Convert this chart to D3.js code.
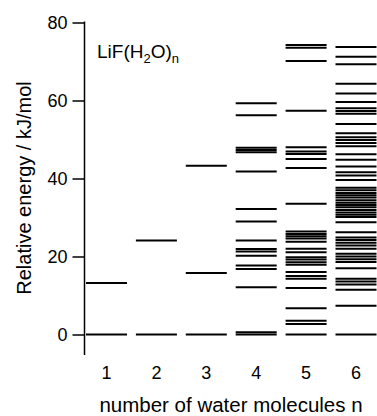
<!DOCTYPE html>
<html>
<head>
<meta charset="utf-8">
<script src="https://cdn.jsdelivr.net/npm/d3@7"></script>
<style>
  body { margin: 0; background: #fff; }
  svg { display: block; font-family: "Liberation Sans", Arial, sans-serif; }
</style>
</head>
<body>
<svg id="chart" width="377" height="416"></svg>
<script>
// cluster sizes n and relative energies (kJ/mol) of each isomer
const clusterSizes = [1, 2, 3, 4, 5, 6];
const energies1 = [0, 13.2];
const energies2 = [0, 24.1];
const energies3 = [0, 15.8, 43.3];
const energies4 = [0, 0.6, 12.1, 16.8, 17.7, 20.2, 21.3, 21.9, 24.1, 29.0, 32.2, 41.8,
  46.7, 47.3, 47.9, 56.2, 59.3];
const energies5 = [0, 2.7, 3.5, 6.7, 11.9, 14.3, 15.0, 16.0, 17.9, 18.5, 19.2, 19.8, 21.1,
  22.0, 23.8, 24.6, 25.2, 25.8, 26.4, 33.5, 42.7, 45.0, 46.3, 46.9, 48.0, 57.4, 70.1, 73.5, 74.2];
const energies6 = [0, 7.4, 11.5, 12.8, 13.6, 14.3, 17.0, 18.6, 19.3, 20.0, 20.7, 22.0, 22.8,
  23.5, 24.2, 24.9, 26.2, 28.8, 30.1, 30.7, 31.3, 31.9, 32.6, 33.2, 33.8, 34.4, 35.1, 35.7,
  36.3, 37.0, 37.6, 39.6, 40.8, 41.6, 43.1, 44.8, 46.2, 48.3, 49.1, 49.9, 50.6, 51.6, 54.0,
  56.6, 57.3, 58.0, 59.6, 61.8, 64.3, 69.3, 71.2, 73.7];
const yTicks = [0, 20, 40, 60, 80];

const allEnergies = [energies1, energies2, energies3, energies4, energies5, energies6];

const svg = d3.select("#chart");

let x = d3.scaleLinear().domain([1, 6]).range([106.5, 356]);
let y = d3.scaleLinear().domain([0, 80]).range([334.5, 22.5]);
let halfWidth = 20.5;

// y axis
let yAxis = d3.axisLeft(y)
  .tickValues(yTicks)
  .tickSize(12)
  .tickPadding(5)
  .tickFormat(d3.format("d"));

let gy = svg.append("g")
  .attr("transform", "translate(84.5,0)")
  .call(yAxis);
gy.select(".domain").remove();
gy.selectAll(".tick line").attr("stroke", "#000").attr("stroke-width", 1.5);
gy.selectAll(".tick text")
  .attr("fill", "#000")
  .style("font-size", "18px")
  .style("font-family", "Liberation Sans, Arial, sans-serif");

gy.append("line")
  .attr("x1", 0).attr("x2", 0)
  .attr("y1", y(80) - 1).attr("y2", 355)
  .attr("stroke", "#000")
  .attr("stroke-width", 1.5);

// category labels (no axis line)
svg.append("g").selectAll("text")
  .data(clusterSizes)
  .enter()
  .append("text")
  .attr("x", d => x(d))
  .attr("y", 379)
  .attr("text-anchor", "middle")
  .style("font-size", "18px")
  .text(d => d);

// energy levels
let levels = [];
allEnergies.forEach(function (arr, i) {
  arr.forEach(function (e) { levels.push({ n: clusterSizes[i], e: e }); });
});

svg.append("g").selectAll("line")
  .data(levels)
  .enter()
  .append("line")
  .attr("x1", d => x(d.n) - halfWidth)
  .attr("x2", d => x(d.n) + halfWidth)
  .attr("y1", d => y(d.e))
  .attr("y2", d => y(d.e))
  .attr("stroke", "#000")
  .attr("stroke-width", 2);

// title
let title = svg.append("text")
  .attr("x", 97)
  .attr("y", 58)
  .style("font-size", "19px");
title.append("tspan").text("LiF(H");
title.append("tspan").attr("dy", 5).style("font-size", "13px").text("2");
title.append("tspan").attr("dy", -5).text("O)");
title.append("tspan").attr("dy", 5).style("font-size", "13px").text("n");

// axis titles
svg.append("text")
  .attr("transform", "translate(31,188) rotate(-90)")
  .attr("text-anchor", "middle")
  .style("font-size", "20px")
  .text("Relative energy / kJ/mol");

svg.append("text")
  .attr("x", 231)
  .attr("y", 412)
  .attr("text-anchor", "middle")
  .style("font-size", "20.5px")
  .text("number of water molecules n");
</script>
</body>
</html>
